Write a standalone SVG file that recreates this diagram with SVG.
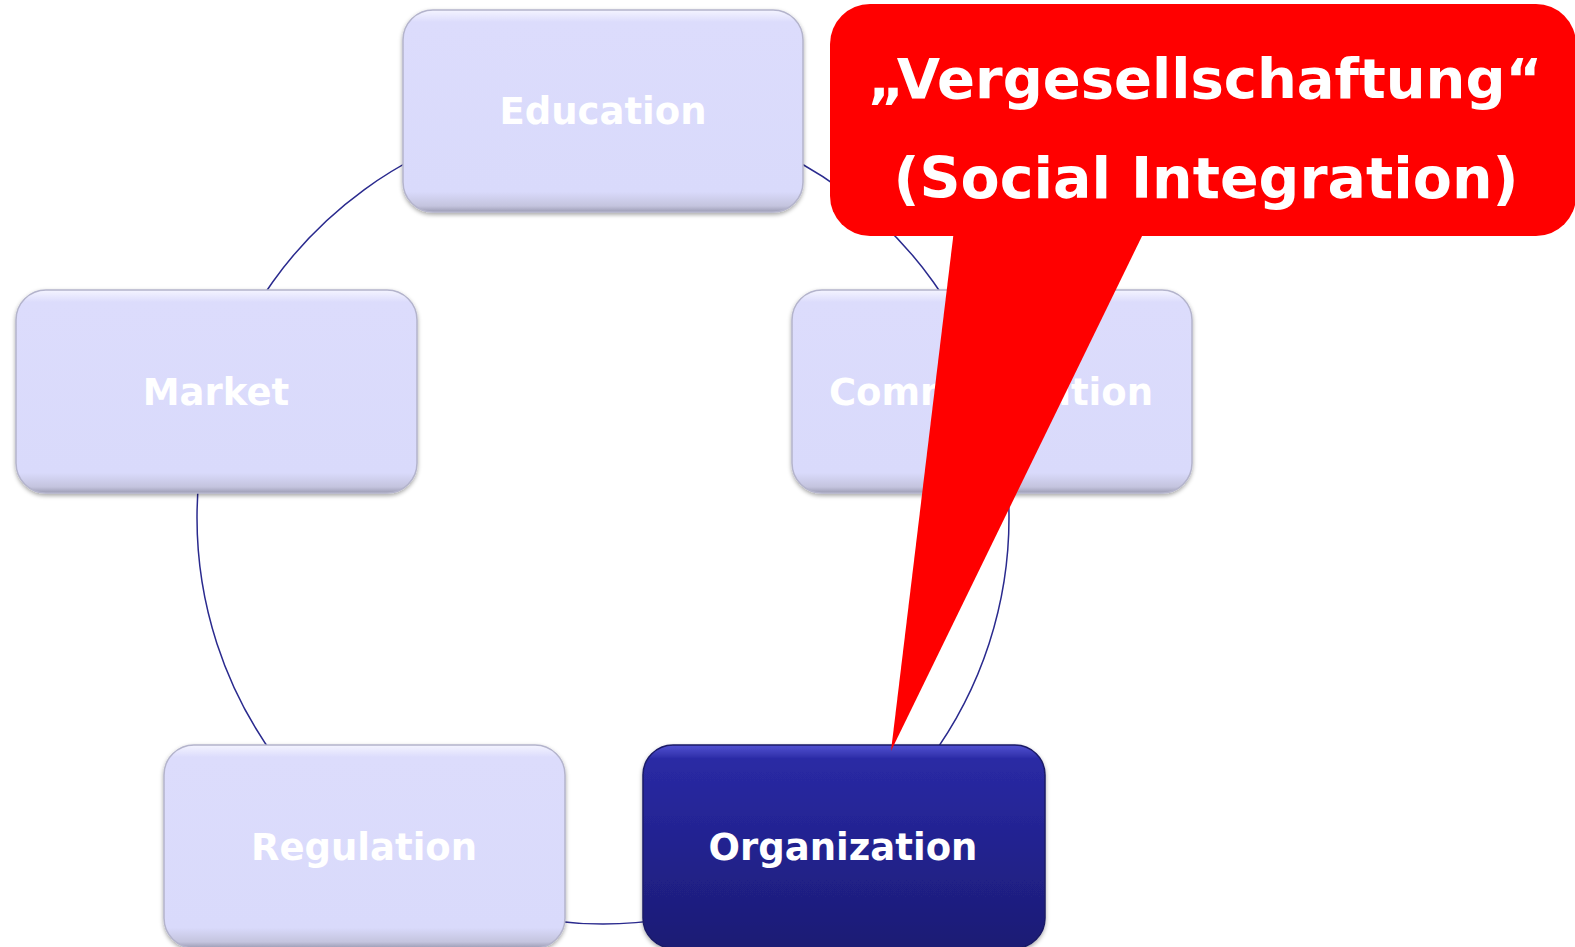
<svg xmlns="http://www.w3.org/2000/svg" width="1575" height="947" viewBox="0 0 1575 947">
<style>
.conn{fill:none;stroke:#2a2a8e;stroke-width:1.5}
.light{fill:url(#gLight);stroke:#b4b4cc;stroke-width:1.5;filter:url(#shadow)}
.dark{fill:url(#gDark);stroke:#1a1a66;stroke-width:1.5;filter:url(#shadow)}
.lbl{font-family:"DejaVu Sans",Verdana,sans-serif;font-weight:bold;font-size:37px;fill:#ffffff;text-anchor:middle}
.call{font-family:"DejaVu Sans",Verdana,sans-serif;font-weight:bold;font-size:57px;fill:#ffffff;text-anchor:middle}
</style>
<defs>
<linearGradient id="gLight" x1="0" y1="0" x2="0" y2="1">
<stop offset="0" stop-color="#f4f4ff"/>
<stop offset="0.06" stop-color="#dcdcfc"/>
<stop offset="0.9" stop-color="#d9dafb"/>
<stop offset="0.97" stop-color="#c4c4de"/>
<stop offset="1" stop-color="#9c9cb4"/>
</linearGradient>
<linearGradient id="gDark" x1="0" y1="0" x2="0" y2="1">
<stop offset="0" stop-color="#5252d2"/>
<stop offset="0.07" stop-color="#2a2aa4"/>
<stop offset="0.5" stop-color="#22228f"/>
<stop offset="1" stop-color="#1c1c74"/>
</linearGradient>
<filter id="shadow" x="-10%" y="-10%" width="120%" height="125%">
<feDropShadow dx="0" dy="2" stdDeviation="2" flood-color="#000" flood-opacity="0.35"/>
</filter>
</defs>
<g id="connectors">
<path class="conn" d="M 603 112 A 406 406 0 0 1 989.1 392.5"/>
<path class="conn" d="M 989.1 392.5 A 406 406 0 0 1 841.6 846.5"/>
<path class="conn" d="M 841.6 846.5 A 406 406 0 0 1 364.4 846.5"/>
<path class="conn" d="M 364.4 846.5 A 406 406 0 0 1 216.9 392.5"/>
<path class="conn" d="M 216.9 392.5 A 406 406 0 0 1 603 112"/>
</g>
<g id="education">
<rect class="light" x="403" y="10" width="400" height="202" rx="30"/>
<text class="lbl" x="603" y="124">Education</text>
</g>
<g id="market">
<rect class="light" x="16" y="290" width="401" height="203" rx="30"/>
<text class="lbl" x="216" y="405">Market</text>
</g>
<g id="communication">
<rect class="light" x="792" y="290" width="400" height="203" rx="30"/>
<text class="lbl" x="991" y="405">Communication</text>
</g>
<g id="regulation">
<rect class="light" x="164" y="745" width="401" height="203" rx="30"/>
<text class="lbl" x="364" y="860">Regulation</text>
</g>
<g id="organization">
<rect class="dark" x="643" y="745" width="402" height="203" rx="30"/>
<text class="lbl" x="843" y="860">Organization</text>
</g>
<g id="callout">
<rect x="830" y="4" width="746" height="232" rx="40" fill="#ff0000"/>
<polygon points="954,230 1145,230 891,751" fill="#ff0000"/>
<text class="call" x="1205" y="98" style="font-size:56px">„Vergesellschaftung“</text>
<text class="call" x="1206" y="198">(Social Integration)</text>
</g>
</svg>
